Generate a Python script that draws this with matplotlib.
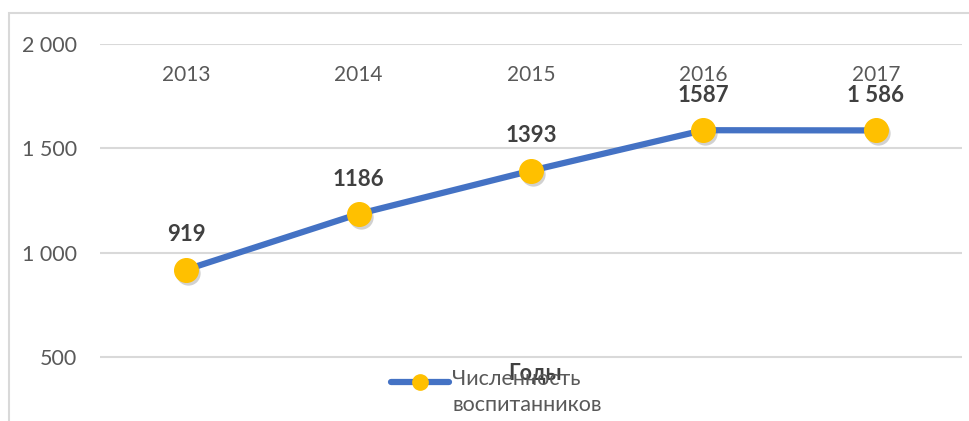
import matplotlib.pyplot as plt
import matplotlib.transforms as mtransforms
from matplotlib.patches import Rectangle
from matplotlib.lines import Line2D

plt.rcParams['font.family'] = ['Lato', 'DejaVu Sans']

# data
years = ['2013', '2014', '2015', '2016', '2017']
pupils = [919, 1186, 1393, 1587, 1586]
value_labels = ['919', '1186', '1393', '1587', '1 586']
y_ticks = [500, 1000, 1500, 2000]
y_tick_labels = ['500', '1 000', '1 500', '2 000']
series_name = 'Численность\nвоспитанников'

W, H = 969, 421
fig = plt.figure(figsize=(W / 100, H / 100), dpi=100)

# chart area border (cut off at right/bottom)
fig.patches.append(Rectangle((9 / W, -0.1), 1.2, (H - 13) / H + 0.1,
                             transform=fig.transFigure, fill=False,
                             edgecolor='#d9d9d9', linewidth=1.5))

ax = fig.add_axes([100 / W, 0, 862 / W, (H - 44) / H])
x = list(range(len(years)))

ax.set_xlim(-0.5, 4.5)
ax.set_ylim(194, 2000)
ax.set_yticks(y_ticks)
ax.set_yticklabels(y_tick_labels)
ax.yaxis.grid(True, color='#d9d9d9', linewidth=1.5)
ax.set_axisbelow(True)
for s in ax.spines.values():
    s.set_visible(False)
ax.tick_params(axis='y', length=0, pad=16.5, labelsize=15.5, labelcolor='#595959')

ax.set_xticks([])
for xi, yr in zip(x, years):
    ax.text(xi, 1850, yr, ha='center', va='center', fontsize=15, color='#595959')

# soft shadow under the markers
shadow_tr = mtransforms.offset_copy(ax.transData, fig=fig, x=2, y=-3, units='dots')
ax.plot(x, pupils, linestyle='none', marker='o', markersize=17.5,
        markerfacecolor='#000000', markeredgecolor='none', alpha=0.18,
        transform=shadow_tr, zorder=2)

ax.plot(x, pupils, color='#4472C4', linewidth=4.5, marker='o',
        markersize=17, markerfacecolor='#FFC000', markeredgecolor='#FFC000',
        zorder=3)

for xi, v, lab in zip(x, pupils, value_labels):
    ax.annotate(lab, (xi, v), xytext=(0, 25), textcoords='offset points',
                ha='center', va='center', fontsize=16, fontweight='bold',
                color='#404040')

fig.text(535 / W, (H - 373) / H, 'Годы', ha='center', va='center',
         fontsize=15.5, fontweight='bold', color='#404040')

# legend key (handle aligned with the first text row, as in the original)
ly = (H - 382) / H
fig.add_artist(Line2D([391 / W, 449 / W], [ly, ly], transform=fig.transFigure,
                      color='#4472C4', linewidth=4.5, solid_capstyle='round'))
fig.add_artist(Line2D([420 / W], [ly], transform=fig.transFigure, marker='o',
                      markersize=11, markerfacecolor='#FFC000',
                      markeredgecolor='#FFC000', linestyle='none'))
fig.text(452 / W, (H - 369) / H, series_name, ha='left', va='top',
         fontsize=15.5, color='#595959', linespacing=1.35)

fig.savefig('out.png', dpi=100)
